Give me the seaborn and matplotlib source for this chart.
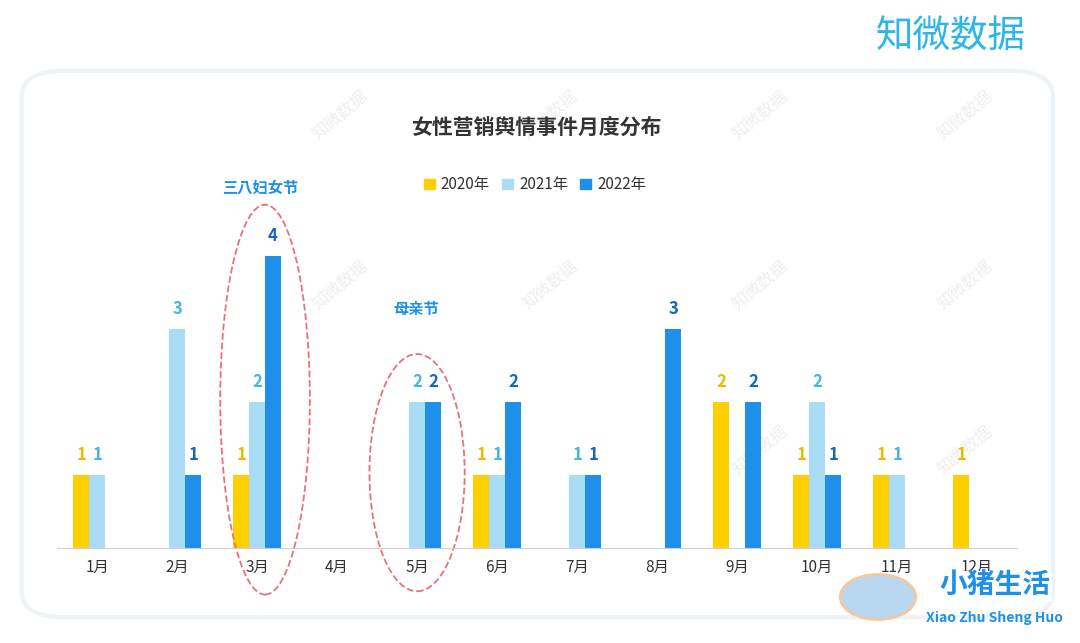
import numpy as np
import pandas as pd
import matplotlib.pyplot as plt
import seaborn as sns
from matplotlib.patches import Ellipse, FancyBboxPatch

plt.rcParams['font.family'] = ['Noto Sans CJK JP', 'Noto Sans SC', 'DejaVu Sans']

months = ['1月', '2月', '3月', '4月', '5月', '6月', '7月', '8月', '9月', '10月', '11月', '12月']
years = ['2020年', '2021年', '2022年']
v2020 = [1, 0, 1, 0, 0, 1, 0, 0, 2, 1, 1, 1]
v2021 = [1, 3, 2, 0, 2, 1, 1, 0, 0, 2, 1, 0]
v2022 = [0, 1, 4, 0, 2, 2, 1, 3, 2, 1, 0, 0]

bar_colors = ['#FFD000', '#A9DDF6', '#1E90EA']
label_colors = ['#F2B800', '#45B4EA', '#1565C8']

df = pd.DataFrame({
    'month': months * 3,
    'year': [y for y in years for _ in months],
    'value': v2020 + v2021 + v2022,
})

fig = plt.figure(figsize=(10.8, 6.43), dpi=100)
fig.patch.set_facecolor('white')

# card background
card = FancyBboxPatch((0.02, 0.04), 0.955, 0.85, boxstyle='round,pad=0,rounding_size=0.04',
                      transform=fig.transFigure, facecolor='white', edgecolor='#EEF3F8', lw=3,
                      zorder=-5)
fig.patches.append(card)

# watermarks behind the chart
for wx, wy in [(340, 115), (550, 115), (760, 115), (965, 115), (340, 285), (550, 285),
               (760, 285), (965, 285), (760, 450), (965, 450)]:
    fig.text(wx / 1080, 1 - wy / 643, '知微数据', ha='center', va='center', fontsize=12,
             color='#EFEFEF', rotation=40, zorder=-4)

ax = fig.add_axes([0.0528, 0.148, 0.889, 0.697])
sns.barplot(data=df, x='month', y='value', hue='year', order=months, hue_order=years,
            palette=bar_colors, width=0.6, ax=ax, legend=False, saturation=1)
ax.set_xlim(-0.5, 11.5)
ax.set_ylim(0, 6.14)
ax.set_facecolor('none')
for s in ['top', 'right', 'left']:
    ax.spines[s].set_visible(False)
ax.spines['bottom'].set_color('#D0D0D0')
ax.set_yticks([])
ax.set_xlabel('')
ax.set_ylabel('')
ax.tick_params(axis='x', length=0, labelsize=11, colors='#333333', pad=8)

for cont, col in zip(ax.containers, label_colors):
    labels = [str(int(b.get_height())) if b.get_height() > 0 else '' for b in cont]
    ax.bar_label(cont, labels=labels, color=col, fontsize=12, fontweight='bold', padding=8)

# annotations
ax.add_patch(Ellipse((2.1, 2.03), 1.12, 5.34, fill=False, ls='--', ec='#E8707A', lw=1.3, clip_on=False))
ax.add_patch(Ellipse((4.0, 1.03), 1.19, 3.25, fill=False, ls='--', ec='#E8707A', lw=1.3, clip_on=False))
fig.text(260 / 1080, 1 - 188 / 643, '三八妇女节', ha='center', va='center', color='#1E90EA',
         fontsize=11, fontweight='bold')
fig.text(416 / 1080, 1 - 309 / 643, '母亲节', ha='center', va='center', color='#1E90EA',
         fontsize=11, fontweight='bold')

# title and legend
fig.text(536 / 1080, 1 - 127 / 643, '女性营销舆情事件月度分布', ha='center', va='center',
         fontsize=15, fontweight='bold', color='#333333')
handles = [plt.Rectangle((0, 0), 1, 1, color=c) for c in bar_colors]
fig.legend(handles, years, loc='center', bbox_to_anchor=(535 / 1080, 1 - 185 / 643), ncol=3,
           frameon=False, fontsize=11, handlelength=0.7, handleheight=0.7, columnspacing=0.8,
           handletextpad=0.4, labelcolor='#333333')

# branding
fig.text(951 / 1080, 1 - 36 / 643, '知微数据', ha='center', va='center', fontsize=27,
         color='#2DB7E8')
fig.patches.append(plt.Circle((878 / 1080, 1 - 597 / 643), 0.035, transform=fig.transFigure,
                              facecolor='#B8D8F2', edgecolor='#F5C7A0', lw=2, zorder=5))
fig.text(995 / 1080, 1 - 586 / 643, '小猪生活', ha='center', va='center', fontsize=20,
         fontweight='bold', color='#1E90EA', zorder=6,
         bbox=dict(facecolor='white', edgecolor='none', pad=1))
fig.text(995 / 1080, 1 - 618 / 643, 'Xiao Zhu Sheng Huo', ha='center', va='center', fontsize=10,
         fontweight='bold', color='#1E90EA', zorder=6)

fig.savefig('out.png', dpi=100)
